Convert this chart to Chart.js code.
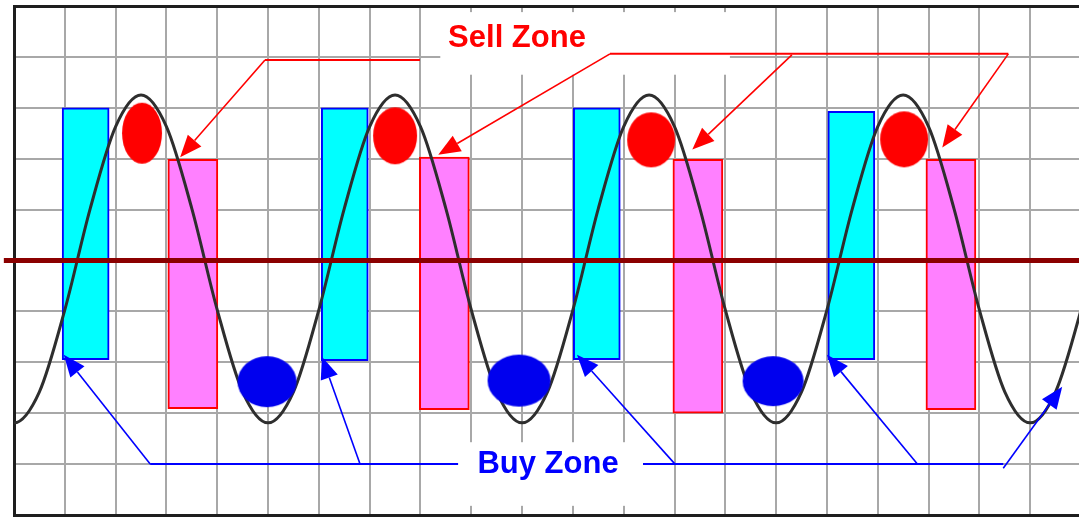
<!DOCTYPE html>
<html>
<head>
<meta charset="utf-8">
<script src="https://cdn.jsdelivr.net/npm/chart.js@4.4.1/dist/chart.umd.min.js"></script>
<style>
  html, body { margin: 0; padding: 0; background: #fff; overflow: hidden; }
  #wrap { width: 1079px; height: 520px; overflow: hidden; }
</style>
</head>
<body>
<div id="wrap"><canvas id="cycle" width="1090" height="520"></canvas></div>
<script>
// grid is 21 columns x 10 rows, one unit per cell
const xMin = 0, xMax = 21
const yMin = -5, yMax = 5

// oscillator, sampled every half cell starting at x = -0.5 (first sample sits off the left edge)
const waveStart = -0.5
const waveStep = 0.5
const waveY = [
  -2.58,
  -3.19, -2.58, -0.97, 1.02, 2.63, 3.25, 2.63, 1.02, -0.97, -2.58,
  -3.19, -2.58, -0.97, 1.02, 2.63, 3.25, 2.63, 1.02, -0.97, -2.58,
  -3.19, -2.58, -0.97, 1.02, 2.63, 3.25, 2.63, 1.02, -0.97, -2.58,
  -3.19, -2.58, -0.97, 1.02, 2.63, 3.25, 2.63, 1.02, -0.97, -2.58,
  -3.19, -2.58, -0.97, 1.02
]

// buy zones (cyan)
const buyBarX = [1.41, 6.51, 11.47, 16.48]
const buyBarLow = [-1.95, -1.97, -1.95, -1.95]
const buyBarHigh = [3.0, 3.0, 3.0, 2.93]

// sell zones (magenta)
const sellBarX = [3.52, 8.47, 13.46, 18.44]
const sellBarLow = [-2.91, -2.93, -3.0, -2.93]
const sellBarHigh = [1.99, 2.03, 1.99, 1.99]

// turning point markers
const sellDotX = [2.52, 7.5, 12.54, 17.52]
const sellDotY = [2.5, 2.45, 2.37, 2.38]
const buyDotX = [4.98, 9.94, 14.94]
const buyDotY = [-2.38, -2.36, -2.37]

const midLevel = 0

// marker sizes in px (w, h)
const sellDotSize = [[40, 61], [44, 57], [48, 55], [48, 56]]
const buyDotSize = [[59, 51], [63, 52], [61, 50]]

// callouts, in axis units
const callouts = [
  {
    text: 'Sell Zone', color: '#ff0000', at: [9.9, 4.2],
    box: [8.39, 4.88, 14.09, 3.65],
    rails: [[[4.94, 3.94], [7.99, 3.94]], [[11.73, 4.06], [19.57, 4.06]]],
    arrows: [
      [[4.94, 3.94], [3.27, 2.03]],
      [[11.73, 4.06], [8.35, 2.08]],
      [[15.31, 4.04], [13.35, 2.18]],
      [[19.57, 4.06], [18.27, 2.22]]
    ]
  },
  {
    text: 'Buy Zone', color: '#0000ff', at: [10.51, -4.18],
    box: [8.74, -3.57, 12.38, -4.82],
    rails: [[[2.68, -4.0], [8.74, -4.0]], [[12.38, -4.0], [19.47, -4.0]]],
    arrows: [
      [[2.68, -4.0], [0.98, -1.85]],
      [[6.81, -4.0], [6.06, -1.89]],
      [[13.01, -4.0], [11.08, -1.85]],
      [[17.78, -4.0], [16.0, -1.85]],
      [[19.47, -4.08], [20.63, -2.48]]
    ]
  }
]

function ellipseStamp(w, h, color) {
  const c = document.createElement('canvas')
  c.width = w + 2
  c.height = h + 2
  const g = c.getContext('2d')
  g.fillStyle = color
  g.beginPath()
  g.ellipse(c.width / 2, c.height / 2, w / 2, h / 2, 0, 0, Math.PI * 2)
  g.fill()
  return c
}

const wave = waveY.map((y, i) => ({ x: waveStart + i * waveStep, y }))
const buyBars = buyBarX.map((x, i) => ({ x, y: [buyBarLow[i], buyBarHigh[i]] }))
const sellBars = sellBarX.map((x, i) => ({ x, y: [sellBarLow[i], sellBarHigh[i]] }))
const sellDots = sellDotX.map((x, i) => ({ x, y: sellDotY[i] }))
const buyDots = buyDotX.map((x, i) => ({ x, y: buyDotY[i] }))

const calloutPlugin = {
  id: 'callouts',
  beforeDatasetsDraw(chart) {
    const { ctx, scales: { x, y } } = chart
    ctx.save()
    ctx.fillStyle = '#ffffff'
    callouts.forEach(c => {
      const [x0, y0, x1, y1] = c.box
      const l = x.getPixelForValue(x0), t = y.getPixelForValue(y0)
      ctx.fillRect(l, t, x.getPixelForValue(x1) - l, y.getPixelForValue(y1) - t)
    })
    ctx.restore()
  },
  afterDatasetsDraw(chart) {
    const { ctx, scales: { x, y } } = chart
    const px = p => [x.getPixelForValue(p[0]), y.getPixelForValue(p[1])]
    ctx.save()
    callouts.forEach(c => {
      ctx.strokeStyle = c.color
      ctx.fillStyle = c.color
      ctx.lineWidth = 2
      c.rails.forEach(r => {
        const a = px(r[0]), b = px(r[1])
        ctx.beginPath()
        ctx.moveTo(a[0], a[1])
        ctx.lineTo(b[0], b[1])
        ctx.stroke()
      })
      ctx.lineWidth = 1.6
      c.arrows.forEach(r => {
        const a = px(r[0]), b = px(r[1])
        const ang = Math.atan2(b[1] - a[1], b[0] - a[0])
        const len = 22, half = 9
        const bx = b[0] - Math.cos(ang) * len, by = b[1] - Math.sin(ang) * len
        ctx.beginPath()
        ctx.moveTo(a[0], a[1])
        ctx.lineTo(bx, by)
        ctx.stroke()
        ctx.beginPath()
        ctx.moveTo(b[0], b[1])
        ctx.lineTo(bx + Math.sin(ang) * half, by - Math.cos(ang) * half)
        ctx.lineTo(bx - Math.sin(ang) * half, by + Math.cos(ang) * half)
        ctx.closePath()
        ctx.fill()
      })
      const t = px(c.at)
      ctx.font = 'bold 31px "Liberation Sans", Arial, sans-serif'
      ctx.textAlign = 'center'
      ctx.textBaseline = 'alphabetic'
      ctx.fillText(c.text, t[0], t[1])
    })
    ctx.restore()
  }
}

const chart = new Chart(document.getElementById('cycle'), {
  type: 'line',
  data: {
    datasets: [
      {
        type: 'bar',
        data: buyBars,
        backgroundColor: '#00ffff',
        borderColor: '#0000ff',
        borderWidth: 2,
        borderSkipped: false,
        barThickness: 47,
        grouped: false,
        order: 6
      },
      {
        type: 'bar',
        data: sellBars,
        backgroundColor: '#ff80ff',
        borderColor: '#ff0000',
        borderWidth: 2,
        borderSkipped: false,
        barThickness: 50,
        grouped: false,
        order: 5
      },
      {
        data: wave,
        borderColor: '#2e2e2e',
        borderWidth: 3,
        pointRadius: 0,
        cubicInterpolationMode: 'monotone',
        order: 4
      },
      {
        data: sellDots,
        showLine: false,
        pointRadius: 3,
        pointStyle: sellDotSize.map(s => ellipseStamp(s[0], s[1], '#ff0000')),
        order: 3
      },
      {
        data: buyDots,
        showLine: false,
        pointRadius: 3,
        pointStyle: buyDotSize.map(s => ellipseStamp(s[0], s[1], '#0000ee')),
        order: 3
      },
      {
        data: [{ x: -0.2, y: midLevel }, { x: 21.3, y: midLevel }],
        borderColor: '#8b0000',
        borderWidth: 5,
        pointRadius: 0,
        clip: false,
        order: 2
      }
    ]
  },
  options: {
    responsive: false,
    devicePixelRatio: 1,
    animation: false,
    layout: { padding: { left: 14, top: 6, right: 9, bottom: 3 } },
    plugins: { legend: { display: false }, tooltip: { enabled: false } },
    scales: {
      x: {
        type: 'linear',
        min: xMin,
        max: xMax,
        offset: false,
        ticks: { display: false, stepSize: 1, maxTicksLimit: 40 },
        grid: { offset: false, drawTicks: false, color: '#a8a8a8', lineWidth: 2 },
        border: { display: true, color: '#1e1e1e', width: 3 }
      },
      y: {
        type: 'linear',
        min: yMin,
        max: yMax,
        ticks: { display: false, stepSize: 1, maxTicksLimit: 40 },
        grid: {
          drawTicks: false,
          color: ctx => ctx.tick && ctx.tick.value === yMax ? '#1e1e1e' : '#a8a8a8',
          lineWidth: ctx => ctx.tick && ctx.tick.value === yMax ? 3 : 2
        },
        border: { display: true, color: '#1e1e1e', width: 3 }
      }
    }
  },
  plugins: [calloutPlugin]
})
</script>
</body>
</html>
